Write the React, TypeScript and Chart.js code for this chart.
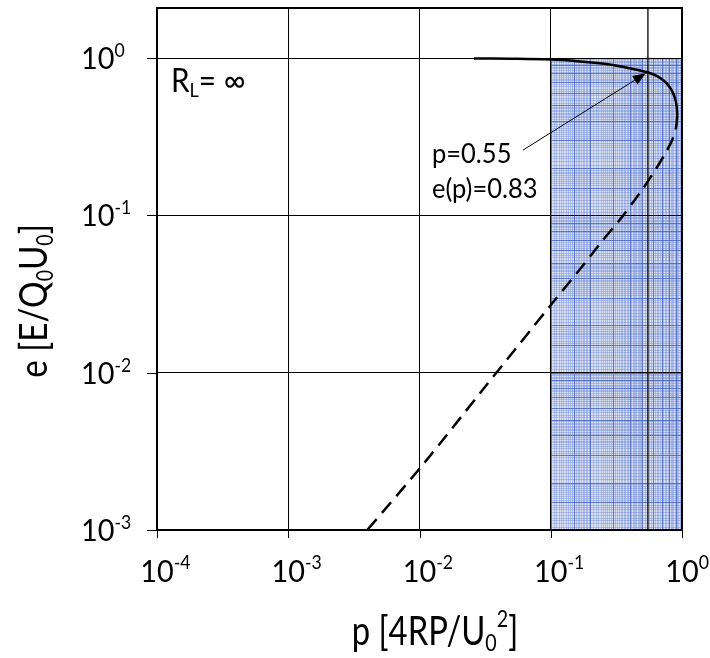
import React, { useEffect, useRef } from "react";
import { Chart, registerables } from "chart.js";

Chart.register(...registerables);

// ---- data ----
const xTickValues = [1e-4, 1e-3, 1e-2, 1e-1, 1];
const xTickExponents = ["-4", "-3", "-2", "-1", "0"];
const yTickValues = [1e-3, 1e-2, 1e-1, 1];
const yTickExponents = ["-3", "-2", "-1", "0"];

// upper branch (solid)
const upperP = [0.026, 0.05, 0.1, 0.16, 0.237, 0.32, 0.4, 0.48, 0.56, 0.64, 0.717, 0.79, 0.85, 0.89, 0.912, 0.92];
const upperE = [0.994, 0.99, 0.978, 0.955, 0.925, 0.893, 0.862, 0.833, 0.806, 0.77, 0.725, 0.668, 0.605, 0.545, 0.49, 0.43];
// lower branch (dashed)
const lowerP = [0.92, 0.9, 0.84, 0.75, 0.64, 0.51, 0.42, 0.34, 0.237, 0.176, 0.104, 0.03, 0.0106, 0.004];
const lowerE = [0.43, 0.36, 0.3, 0.25, 0.2, 0.15, 0.12, 0.095, 0.066, 0.048, 0.028, 0.0077, 0.0026, 0.001];

const markerP = 0.55;
const markerLabel1 = "p=0.55";
const markerLabel2 = "e(p)=0.83";
const arrowFrom = { p: 0.0615, e: 0.26 };
const arrowTo = { p: 0.53, e: 0.8 };

const paperX = [0.1, 1];
const paperY = [0.001, 1];

const FONT = "Lato, 'Open Sans', sans-serif";

type Part = { t: string; size: number; dy: number };

function partsWidth(ctx: CanvasRenderingContext2D, parts: Part[]) {
  let w = 0;
  for (const p of parts) {
    ctx.font = `${p.size}px ${FONT}`;
    w += ctx.measureText(p.t).width;
  }
  return w;
}

function drawParts(
  ctx: CanvasRenderingContext2D,
  parts: Part[],
  x: number,
  y: number,
  startOffset: number,
  sx: number,
  rotate = 0
) {
  ctx.save();
  ctx.translate(x, y);
  if (rotate) ctx.rotate(rotate);
  ctx.scale(sx, 1);
  ctx.fillStyle = "#000";
  ctx.textBaseline = "alphabetic";
  ctx.textAlign = "left";
  let cx = startOffset;
  for (const p of parts) {
    ctx.font = `${p.size}px ${FONT}`;
    ctx.fillText(p.t, cx, p.dy);
    cx += ctx.measureText(p.t).width;
  }
  ctx.restore();
}

const paperPlugin = {
  id: "paper",
  beforeDraw(chart: any) {
    const { ctx } = chart;
    const xs = chart.scales.x;
    const ys = chart.scales.y;
    const x0 = xs.getPixelForValue(paperX[0]);
    const x1 = xs.getPixelForValue(paperX[1]);
    const y0 = ys.getPixelForValue(paperY[1]);
    const y1 = ys.getPixelForValue(paperY[0]);
    ctx.save();
    ctx.fillStyle = "#dae1f2";
    ctx.fillRect(x0, y0, x1 - x0, y1 - y0);
    const fineX: number[] = [];
    for (let v = 0.1; v < 0.2 - 1e-9; v += 0.005) fineX.push(v);
    for (let v = 0.2; v < 0.5 - 1e-9; v += 0.01) fineX.push(v);
    for (let v = 0.5; v < 1 - 1e-9; v += 0.02) fineX.push(v);
    ctx.lineWidth = 1;
    ctx.strokeStyle = "rgba(80,115,210,0.32)";
    ctx.beginPath();
    for (const v of fineX) {
      const px = Math.round(xs.getPixelForValue(v)) + 0.5;
      ctx.moveTo(px, y0);
      ctx.lineTo(px, y1);
    }
    for (const dec of [0.001, 0.01, 0.1]) {
      const vals: number[] = [];
      for (let m = 1; m < 2 - 1e-9; m += 0.05) vals.push(m * dec);
      for (let m = 2; m < 5 - 1e-9; m += 0.1) vals.push(m * dec);
      for (let m = 5; m < 10 - 1e-9; m += 0.2) vals.push(m * dec);
      for (const v of vals) {
        const py = Math.round(ys.getPixelForValue(v)) + 0.5;
        ctx.moveTo(x0, py);
        ctx.lineTo(x1, py);
      }
    }
    ctx.stroke();
    ctx.strokeStyle = "rgba(55,85,185,0.65)";
    ctx.beginPath();
    for (const v of [0.1, 0.15, 0.2, 0.3, 0.4, 0.5, 0.6, 0.7, 0.8, 0.9]) {
      const px = Math.round(xs.getPixelForValue(v)) + 0.5;
      ctx.moveTo(px, y0);
      ctx.lineTo(px, y1);
    }
    for (const dec of [0.001, 0.01, 0.1]) {
      for (const m of [1, 1.5, 2, 3, 4, 5, 6, 7, 8, 9]) {
        const py = Math.round(ys.getPixelForValue(m * dec)) + 0.5;
        ctx.moveTo(x0, py);
        ctx.lineTo(x1, py);
      }
    }
    ctx.stroke();
    ctx.restore();
  },
  beforeDatasetsDraw(chart: any) {
    const { ctx, chartArea } = chart;
    const xs = chart.scales.x;
    const px = xs.getPixelForValue(markerP);
    ctx.save();
    ctx.strokeStyle = "#000";
    ctx.lineWidth = 1.3;
    ctx.beginPath();
    ctx.moveTo(px, chartArea.top);
    ctx.lineTo(px, chartArea.bottom);
    ctx.stroke();
    ctx.restore();
  },
};

const decorPlugin = {
  id: "decor",
  afterDraw(chart: any) {
    const { ctx, chartArea } = chart;
    const xs = chart.scales.x;
    const ys = chart.scales.y;
    ctx.save();
    ctx.strokeStyle = "#000";
    ctx.lineWidth = 2;
    ctx.strokeRect(chartArea.left, chartArea.top, chartArea.right - chartArea.left, chartArea.bottom - chartArea.top);
    ctx.lineWidth = 1;
    ctx.beginPath();
    for (const v of yTickValues) {
      const py = Math.round(ys.getPixelForValue(v)) + 0.5;
      ctx.moveTo(chartArea.left - 10, py);
      ctx.lineTo(chartArea.left, py);
    }
    for (const v of xTickValues) {
      const px = Math.round(xs.getPixelForValue(v)) + 0.5;
      ctx.moveTo(px, chartArea.bottom);
      ctx.lineTo(px, chartArea.bottom + 8);
    }
    ctx.stroke();
    ctx.restore();

    yTickValues.forEach((v, i) => {
      const py = ys.getPixelForValue(v);
      drawParts(ctx, [
        { t: "10", size: 31, dy: 0 },
        { t: yTickExponents[i], size: 19, dy: -12 },
      ], 81, py + 11, 0, 0.93);
    });
    xTickValues.forEach((v, i) => {
      const px = xs.getPixelForValue(v);
      ctx.font = `31px ${FONT}`;
      const w0 = ctx.measureText("10").width * 0.93;
      drawParts(ctx, [
        { t: "10", size: 31, dy: 0 },
        { t: xTickExponents[i], size: 19, dy: -13 },
      ], px - w0 / 2, 582, 0, 0.93);
    });

    const xt: Part[] = [
      { t: "p [4RP/U", size: 40, dy: 0 },
      { t: "0", size: 24, dy: 6 },
      { t: "2", size: 24, dy: -18 },
      { t: "]", size: 40, dy: 0 },
    ];
    const xtw = partsWidth(ctx, xt);
    drawParts(ctx, xt, 435, 645, -xtw / 2, 0.82);

    const yt: Part[] = [
      { t: "e [E/Q", size: 39, dy: 0 },
      { t: "0", size: 23, dy: 6 },
      { t: "U", size: 39, dy: 0 },
      { t: "0", size: 23, dy: 6 },
      { t: "]", size: 39, dy: 0 },
    ];
    const ytw = partsWidth(ctx, yt);
    drawParts(ctx, yt, 47, 301, -ytw / 2, 0.85, -Math.PI / 2);

    drawParts(ctx, [
      { t: "R", size: 33, dy: 0 },
      { t: "L", size: 20, dy: 5 },
      { t: "= \u221E", size: 33, dy: 0 },
    ], 171, 92, 0, 0.9);

    drawParts(ctx, [{ t: markerLabel1, size: 26, dy: 0 }], 432, 163, 0, 0.98);
    drawParts(ctx, [{ t: markerLabel2, size: 26, dy: 0 }], 432, 198, 0, 0.98);

    const ax0 = xs.getPixelForValue(arrowFrom.p);
    const ay0 = ys.getPixelForValue(arrowFrom.e);
    const ax1 = xs.getPixelForValue(arrowTo.p);
    const ay1 = ys.getPixelForValue(arrowTo.e);
    const ang = Math.atan2(ay1 - ay0, ax1 - ax0);
    const L = 13, W = 5;
    ctx.save();
    ctx.strokeStyle = "#000";
    ctx.fillStyle = "#000";
    ctx.lineWidth = 1;
    ctx.beginPath();
    ctx.moveTo(ax0, ay0);
    ctx.lineTo(ax1 - L * Math.cos(ang), ay1 - L * Math.sin(ang));
    ctx.stroke();
    ctx.beginPath();
    ctx.moveTo(ax1, ay1);
    ctx.lineTo(ax1 - L * Math.cos(ang) + W * Math.sin(ang), ay1 - L * Math.sin(ang) - W * Math.cos(ang));
    ctx.lineTo(ax1 - L * Math.cos(ang) - W * Math.sin(ang), ay1 - L * Math.sin(ang) + W * Math.cos(ang));
    ctx.closePath();
    ctx.fill();
    ctx.restore();
  },
};

export default function App() {
  const ref = useRef<HTMLCanvasElement | null>(null);
  useEffect(() => {
    if (!ref.current) return;
    const upper = upperP.map((p, i) => ({ x: p, y: upperE[i] }));
    const lower = lowerP.map((p, i) => ({ x: p, y: lowerE[i] }));
    const chart = new Chart(ref.current, {
      type: "scatter",
      data: {
        datasets: [
          {
            data: upper,
            showLine: true,
            borderColor: "#000",
            borderWidth: 2.5,
            pointRadius: 0,
            tension: 0.35,
          },
          {
            data: lower,
            showLine: true,
            borderColor: "#000",
            borderWidth: 2.5,
            borderDash: [14, 8],
            pointRadius: 0,
            tension: 0.3,
          },
        ],
      },
      options: {
        responsive: false,
        animation: false,
        layout: { padding: { left: 157, right: 28, top: 8, bottom: 128 } },
        plugins: { legend: { display: false }, tooltip: { enabled: false } },
        scales: {
          x: {
            type: "logarithmic",
            min: 1e-4,
            max: 1,
            ticks: { display: false },
            grid: { color: "#000", lineWidth: 1, drawTicks: false },
            border: { display: false },
            afterBuildTicks: (s: any) => {
              s.ticks = xTickValues.map((v) => ({ value: v }));
            },
          },
          y: {
            type: "logarithmic",
            min: 1e-3,
            max: 2.08,
            ticks: { display: false },
            grid: { color: "#000", lineWidth: 1, drawTicks: false },
            border: { display: false },
            afterBuildTicks: (s: any) => {
              s.ticks = yTickValues.map((v) => ({ value: v }));
            },
          },
        },
      },
      plugins: [paperPlugin, decorPlugin],
    } as any);
    return () => chart.destroy();
  }, []);
  return (
    <div style={{ position: "fixed", left: 0, top: 0, width: 710, height: 658, background: "#fff" }}>
      <canvas ref={ref} width={710} height={658} style={{ display: "block", width: 710, height: 658 }} />
    </div>
  );
}
